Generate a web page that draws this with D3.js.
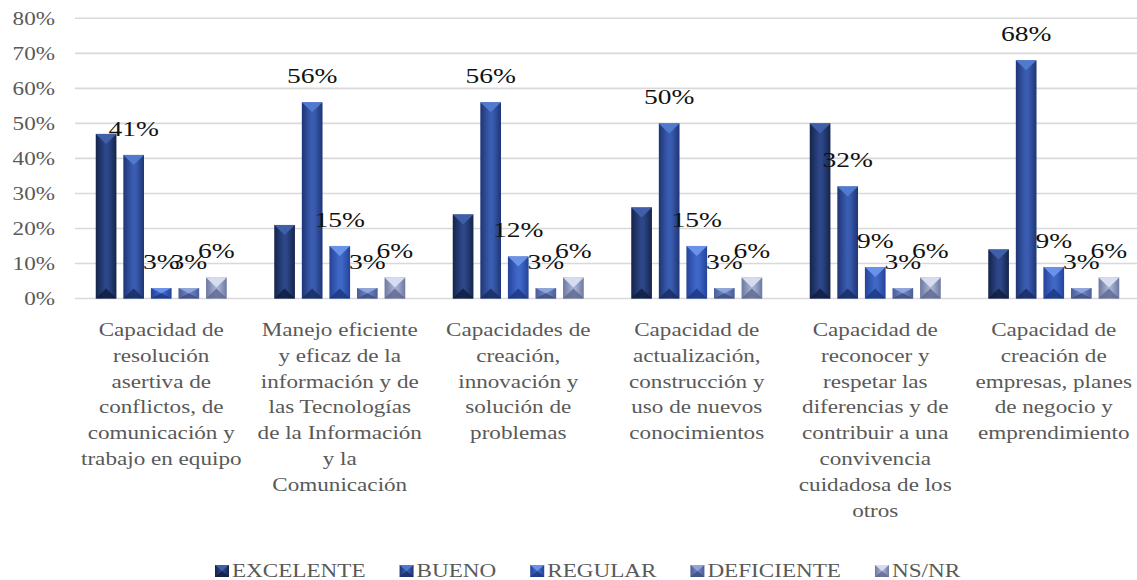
<!DOCTYPE html>
<html>
<head>
<meta charset="utf-8">
<script src="https://cdn.jsdelivr.net/npm/d3@7"></script>
<style>
  body { margin: 0; background: #fff; }
  svg { display: block; }
</style>
</head>
<body>
<div class="container"></div>
<script>
// data
const categories = [
  ["Capacidad de", "resolución", "asertiva de", "conflictos, de", "comunicación y", "trabajo en equipo"],
  ["Manejo eficiente", "y eficaz de la", "información y de", "las Tecnologías", "de la Información", "y la", "Comunicación"],
  ["Capacidades de", "creación,", "innovación y", "solución de", "problemas"],
  ["Capacidad de", "actualización,", "construcción y", "uso de nuevos", "conocimientos"],
  ["Capacidad de", "reconocer y", "respetar las", "diferencias y de", "contribuir a una", "convivencia", "cuidadosa de los", "otros"],
  ["Capacidad de", "creación de", "empresas, planes", "de negocio y", "emprendimiento"]
];
const seriesNames = ["EXCELENTE", "BUENO", "REGULAR", "DEFICIENTE", "NS/NR"];
const excelente = [47, 21, 24, 26, 50, 14];
const bueno = [41, 56, 56, 50, 32, 68];
const regular = [3, 15, 12, 15, 9, 9];
const deficiente = [3, 3, 3, 3, 3, 3];
const nsnr = [6, 6, 6, 6, 6, 6];
const yTicks = [0, 10, 20, 30, 40, 50, 60, 70, 80];

const seriesValues = [excelente, bueno, regular, deficiente, nsnr];
const labelled = [false, true, true, true, true]; // no labels on EXCELENTE

// colours: [edge, middle, top facet, bottom facet]
const palette = [
  ["#14244a", "#2c4688", "#3f5fa8", "#0f1c3c"],
  ["#1e3575", "#3a5cb0", "#5079d0", "#182a5e"],
  ["#24439a", "#3f67c6", "#6a92e8", "#1c3680"],
  ["#4a5d96", "#6d82bd", "#90a5da", "#3c4c80"],
  ["#6d789f", "#a6b0d2", "#d7ddf0", "#5e6890"]
];

const W = 1137, H = 580;
const SX = 1.25; // the source picture is stretched sideways
const font = "'Liberation Serif', 'Times New Roman', serif";
const grey = "#595959";

const svg = d3.select('.container').append('svg')
  .attr('width', W).attr('height', H);

const defs = svg.append('defs');
palette.forEach((c, i) => {
  const g = defs.append('linearGradient').attr('id', 'grad' + i)
    .attr('x1', 0).attr('x2', 1).attr('y1', 0).attr('y2', 0);
  g.append('stop').attr('offset', '0%').attr('stop-color', c[0]);
  g.append('stop').attr('offset', '45%').attr('stop-color', c[1]);
  g.append('stop').attr('offset', '60%').attr('stop-color', c[1]);
  g.append('stop').attr('offset', '100%').attr('stop-color', c[0]);
});

const x0 = d3.scaleBand().domain(d3.range(categories.length)).range([72, 1143]);
const inner = 131;
const x1 = d3.scaleBand().domain(d3.range(seriesNames.length))
  .range([(x0.bandwidth() - inner) / 2, (x0.bandwidth() + inner) / 2])
  .paddingInner(0.25);
const y = d3.scaleLinear().domain([0, 80]).range([298.5, 18.3]);

// stretched text helper
function stext(parent, x, yy, str, size, color, anchor) {
  const g = parent.append('g').attr('transform', `translate(${x},${yy}) scale(${SX},1)`);
  return g.append('text')
    .attr('text-anchor', anchor || 'middle')
    .attr('font-family', font)
    .attr('font-size', size + 'px')
    .attr('fill', color)
    .text(str);
}

// gridlines
svg.append('g').selectAll('line').data(yTicks).enter().append('line')
  .attr('x1', 75).attr('x2', W)
  .attr('y1', d => y(d)).attr('y2', d => y(d))
  .attr('stroke', '#d9d9d9').attr('stroke-width', 1.6);

// y axis labels
const yAxis = svg.append('g');
yTicks.forEach(t => {
  stext(yAxis, 55, y(t), t + '%', 18.5, grey, 'end').attr('dy', '0.35em');
});

// bevelled bar
function bevelBar(parent, x, yTop, w, h, si) {
  const c = palette[si];
  const b = Math.min(w / 2, h / 2, 10);
  parent.append('rect').attr('x', x).attr('y', yTop).attr('width', w).attr('height', h)
    .attr('fill', `url(#grad${si})`);
  parent.append('polygon')
    .attr('points', [[x, yTop], [x + w, yTop], [x + w / 2, yTop + b]].join(' '))
    .attr('fill', c[2]);
  parent.append('polygon')
    .attr('points', [[x, yTop + h], [x + w, yTop + h], [x + w / 2, yTop + h - b]].join(' '))
    .attr('fill', c[3]).attr('opacity', 0.8);
}

// bars
const barsG = svg.append('g');
categories.forEach((cat, ci) => {
  seriesValues.forEach((vals, si) => {
    const v = vals[ci];
    const bx = x0(ci) + x1(si);
    bevelBar(barsG, bx, y(v), x1.bandwidth(), y(0) - y(v), si);
  });
});

// data labels
const labelsG = svg.append('g');
categories.forEach((cat, ci) => {
  seriesValues.forEach((vals, si) => {
    if (!labelled[si]) return;
    const v = vals[ci];
    stext(labelsG, x0(ci) + x1(si) + x1.bandwidth() / 2, y(v) - 19, v + '%', 22, '#111');
  });
});

// category labels
const catG = svg.append('g');
categories.forEach((lines, ci) => {
  lines.forEach((ln, li) => {
    stext(catG, x0(ci) + x0.bandwidth() / 2, 336 + li * 25.8, ln, 18.5, grey);
  });
});

// legend
const legend = svg.append('g');
let lx = 215;
seriesNames.forEach((name, si) => {
  bevelBar(legend, lx, 565, 14, 12, si);
  const t = stext(legend, lx + 17, 577, name, 18.5, grey, 'start');
  lx += 17 + t.node().getComputedTextLength() * SX + 34;
});
</script>
</body>
</html>
